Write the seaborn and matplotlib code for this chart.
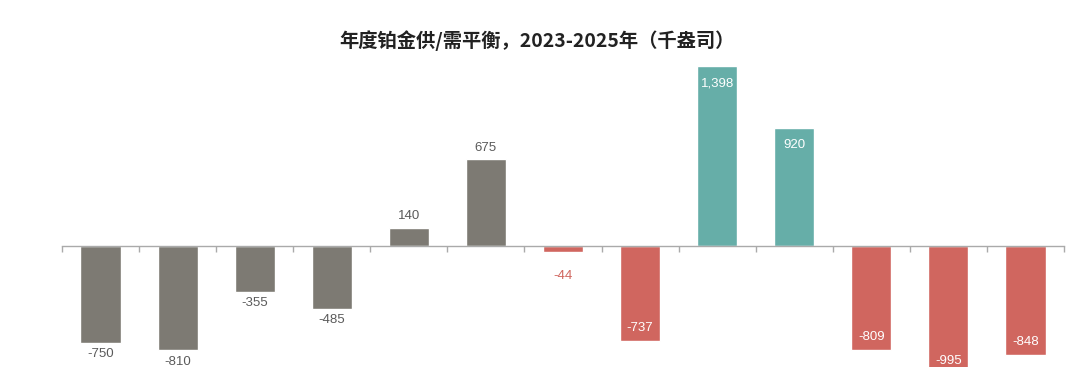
import matplotlib
matplotlib.use("Agg")
import matplotlib.pyplot as plt
import seaborn as sns
import pandas as pd

categories = [f"P{i}" for i in range(1, 14)]
values = [-750, -810, -355, -485, 140, 675, -44, -737, 1398, 920, -809, -995, -848]
groups = ["g", "g", "g", "g", "g", "g", "r", "r", "t", "t", "r", "r", "r"]
labels = ["-750", "-810", "-355", "-485", "140", "675", "-44", "-737",
          "1,398", "920", "-809", "-995", "-848"]

palette = {"g": "#7d7a73", "r": "#d0665f", "t": "#66aea8"}

sns.set_theme(style="white")
plt.rcParams['font.family'] = ['Noto Sans CJK SC', 'DejaVu Sans']

df = pd.DataFrame({"cat": categories, "val": values, "grp": groups})

fig = plt.figure(figsize=(10.76, 3.67), dpi=100)
ax = fig.add_axes([62/1076, 0, 1002/1076, 312/367])
sns.barplot(data=df, x="cat", y="val", hue="grp", palette=palette,
            dodge=False, width=0.52, legend=False, ax=ax, saturation=1)

ax.set_ylim(-939, 1483)
ax.set_xlim(-0.5, 12.5)
for s in ["top", "right", "left"]:
    ax.spines[s].set_visible(False)
ax.spines["bottom"].set_position(("data", 0))
ax.spines["bottom"].set_color("#aaaaaa")
ax.spines["bottom"].set_linewidth(1.0)
ax.set_yticks([])
ax.set_xticks([i - 0.5 for i in range(14)])
ax.set_xticklabels([])
ax.tick_params(axis="x", direction="out", length=4, color="#aaaaaa", width=1, bottom=True)
ax.set_xlabel("")
ax.set_ylabel("")

for i, (v, g, lab) in enumerate(zip(values, groups, labels)):
    if g == "g":
        if v >= 0:
            off, va, col = 4, "bottom", "#5a5a5a"
        else:
            off, va, col = -4, "top", "#5a5a5a"
    elif g == "t":
        off, va, col = -8, "top", "white"
    else:
        if i == 6:
            off, va, col = -13, "top", "#d0665f"
        else:
            off, va, col = 5, "bottom", "white"
    ax.annotate(lab, (i, v), xytext=(0, off), textcoords="offset points",
                ha="center", va=va, fontsize=9.5, color=col,
                family=["Liberation Sans", "DejaVu Sans"],
                annotation_clip=False)

fig.text(537/1076, 1 - 41/367, "年度铂金供/需平衡，2023-2025年（千盎司）",
         ha="center", va="center", fontsize=13.9, fontweight="bold", color="#222222")

fig.savefig("out.png", dpi=100)
